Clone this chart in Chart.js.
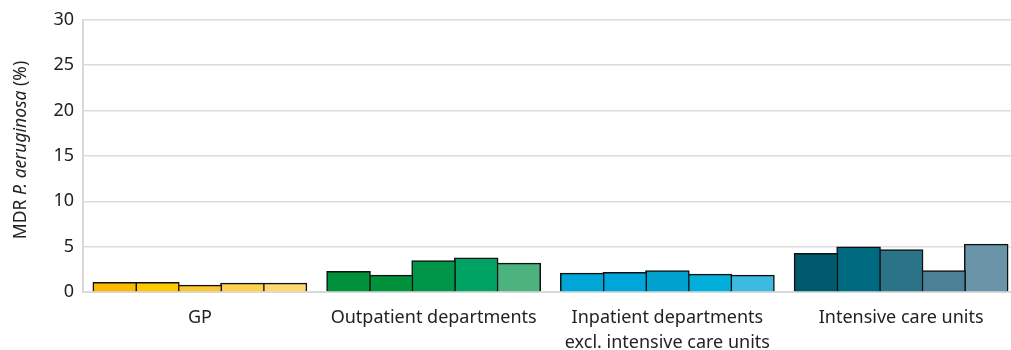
<!DOCTYPE html>
<html><head><meta charset="utf-8">
<script src="https://cdn.jsdelivr.net/npm/chart.js@4/dist/chart.umd.min.js"></script>
<style>html,body{margin:0;padding:0;background:#fff;overflow:hidden;width:1011px;height:350px}#wrap{width:1018px;height:350px;position:relative}</style>
</head><body><div id="wrap"><canvas id="c"></canvas></div>
<script>
const categories = ["GP", "Outpatient departments", ["Inpatient departments", "excl. intensive care units"], "Intensive care units"];
const series1 = [1.0, 2.2, 2.0, 4.2];
const series2 = [1.0, 1.8, 2.1, 4.9];
const series3 = [0.7, 3.4, 2.3, 4.6];
const series4 = [0.9, 3.7, 1.9, 2.3];
const series5 = [0.9, 3.1, 1.8, 5.2];
const yTicks = [0, 5, 10, 15, 20, 25, 30];
const colors = [
  ["#FBBA00", "#00913A", "#00A6D6", "#005A6E"],
  ["#FFC800", "#02913B", "#00A5D9", "#006B80"],
  ["#FCC62E", "#00964A", "#00A3CF", "#2B7487"],
  ["#FFD14F", "#00A364", "#00AFDA", "#4A8196"],
  ["#FFD96F", "#4DB37E", "#3DBAE0", "#6A95A8"]
];
const allSeries = [series1, series2, series3, series4, series5];
const font = "'Noto Sans', sans-serif";

const yTitle = {
  id: 'yTitle',
  afterDraw(chart) {
    const ctx = chart.ctx;
    const parts = [["MDR ", "normal"], ["P. aeruginosa", "italic"], [" (%)", "normal"]];
    ctx.save();
    let total = 0;
    for (const [t, s] of parts) { ctx.font = s + " 17.5px " + font; total += ctx.measureText(t).width; }
    ctx.translate(21, 150);
    ctx.rotate(-Math.PI / 2);
    ctx.fillStyle = "#222";
    ctx.textBaseline = "middle";
    let x = -total / 2;
    for (const [t, s] of parts) { ctx.font = s + " 17.5px " + font; ctx.fillText(t, x, 0); x += ctx.measureText(t).width; }
    ctx.restore();
  }
};

new Chart(document.getElementById('c'), {
  type: 'bar',
  data: {
    labels: categories,
    datasets: allSeries.map((d, i) => ({
      data: d,
      backgroundColor: colors[i],
      borderColor: "#111",
      borderWidth: 1.5,
      borderSkipped: 'start',
      inflateAmount: 1,
      barPercentage: 1.0,
      categoryPercentage: 0.91
    }))
  },
  options: {
    responsive: true,
    maintainAspectRatio: false,
    animation: false,
    layout: { padding: { left: 0, top: 14, right: 0, bottom: 0 } },
    plugins: { legend: { display: false }, tooltip: { enabled: false } },
    scales: {
      x: {
        afterFit: (axis) => { axis.height = 58; },
        grid: { display: false, drawTicks: false },
        border: { display: true, color: "#d9d9d9", width: 2 },
        ticks: { color: "#222", font: { family: font, size: 18, lineHeight: 1.4 }, padding: 13, maxRotation: 0, autoSkip: false }
      },
      y: {
        min: 0, max: 30,
        afterFit: (axis) => { axis.width = 83; },
        afterBuildTicks: (axis) => { axis.ticks = yTicks.map(v => ({ value: v })); },
        grid: { color: "#dcdcdc", lineWidth: 1.5, drawTicks: false },
        border: { display: true, color: "#d9d9d9", width: 2 },
        ticks: { color: "#222", font: { family: font, size: 18 }, padding: 9 }
      }
    }
  },
  plugins: [yTitle]
});
</script></body></html>
